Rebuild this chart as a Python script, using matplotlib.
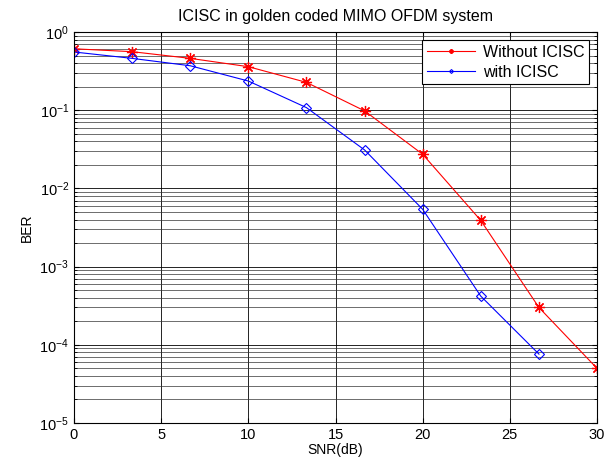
import matplotlib
matplotlib.use('Agg')
import matplotlib.pyplot as plt
import numpy as np

plt.rcParams['font.family'] = ['Liberation Sans', 'DejaVu Sans']
plt.rcParams['mathtext.fontset'] = 'custom'
plt.rcParams['mathtext.rm'] = 'Liberation Sans'

# SNR points (dB)
snr_without = [0, 3.33, 6.67, 10, 13.33, 16.67, 20, 23.33, 26.67, 30]
ber_without = [0.61, 0.56, 0.46, 0.36, 0.227, 0.098, 0.0273, 0.0039, 0.0003, 5.0e-5]

snr_with = [0, 3.33, 6.67, 10, 13.33, 16.67, 20, 23.33, 26.67]
ber_with = [0.555, 0.46, 0.37, 0.236, 0.108, 0.031, 0.0054, 0.00042, 7.6e-5]

fig = plt.figure(figsize=(6.11, 4.65), dpi=100)
ax = fig.add_axes([0.1211, 0.0903, 0.8560, 0.8409])

# matlab style asterisk marker
ast = (8, 2, 0)
ax.semilogy(snr_without, ber_without, color='red', linewidth=0.8, marker=ast,
            markersize=8, markeredgewidth=0.9, label='Without ICISC')
ax.semilogy(snr_with, ber_with, color='blue', linewidth=0.8, marker='D',
            markersize=5, markerfacecolor='none', markeredgewidth=0.8, label='with ICISC')

ax.set_xlim(0, 30)
ax.set_ylim(1e-5, 1)
ax.set_xticks(np.arange(0, 31, 5))

ax.grid(True, which='major', color='black', linewidth=0.6)
ax.grid(True, which='minor', axis='y', color='#333333', linewidth=0.5)
ax.tick_params(which='both', direction='in', top=True, right=True, labelsize=10.5)

ax.set_xlabel('SNR(dB)', fontsize=10, labelpad=1)
ax.set_ylabel('BER', fontsize=10, labelpad=4)
ax.set_title('ICISC in golden coded MIMO OFDM system', fontsize=11.5, pad=8)

leg = ax.legend(loc='upper right', fontsize=11.5, fancybox=False, framealpha=1,
                edgecolor='black', borderaxespad=0.5, handlelength=3.0,
                handletextpad=0.5, borderpad=0.3, labelspacing=0.3,
                markerscale=0.4)
leg.get_frame().set_linewidth(0.8)

fig.savefig('out.png', dpi=100)
